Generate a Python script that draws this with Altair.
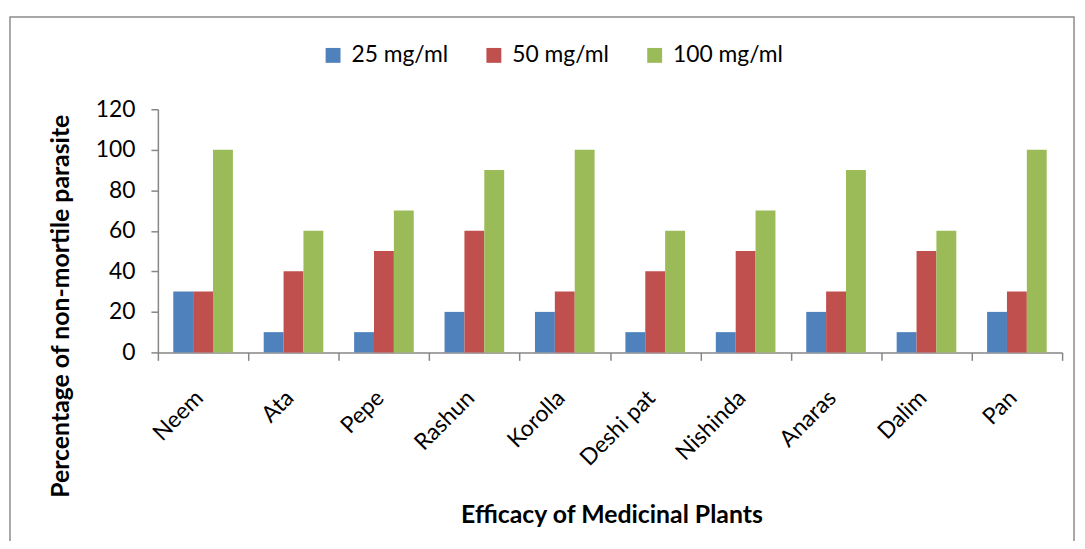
import altair as alt
import pandas as pd

plants = ["Neem", "Ata", "Pepe", "Rashun", "Korolla", "Deshi pat", "Nishinda", "Anaras", "Dalim", "Pan"]
series = ["25 mg/ml", "50 mg/ml", "100 mg/ml"]
v25 = [30, 10, 10, 20, 20, 10, 10, 20, 10, 20]
v50 = [30, 40, 50, 60, 30, 40, 50, 30, 50, 30]
v100 = [100, 60, 70, 90, 100, 60, 70, 90, 60, 100]
colors = ["#4F81BD", "#C0504D", "#9BBB59"]
y_ticks = [0, 20, 40, 60, 80, 100, 120]

rows = []
for s, vals in zip(series, [v25, v50, v100]):
    for p, v in zip(plants, vals):
        rows.append({"plant": p, "series": s, "value": v})
df = pd.DataFrame(rows)

FONT = "Lato"
AX = "#868686"

bars = alt.Chart(df).mark_bar().encode(
    x=alt.X("plant:N", sort=plants,
            scale=alt.Scale(paddingInner=0, paddingOuter=0),
            axis=alt.Axis(title="Efficacy of Medicinal Plants", labelAngle=-45,
                          labelAlign="right", labelBaseline="middle",
                          labelFontSize=23, labelFont=FONT, labelColor="black",
                          labelPadding=34, labelOffset=-4, tickBand="extent", tickSize=8,
                          tickColor=AX, domainColor=AX, domainWidth=1.5, tickWidth=1.5,
                          titleFont=FONT, titleFontSize=25, titleFontWeight="bold",
                          titleColor="black", titleX=457, titleY=171,
                          titleBaseline="alphabetic", titleAlign="center")),
    xOffset=alt.XOffset("series:N", sort=series,
                        scale=alt.Scale(paddingInner=0, paddingOuter=0.775)),
    y=alt.Y("value:Q", scale=alt.Scale(domain=[0, 120], nice=False),
            axis=alt.Axis(title="Percentage of non-mortile parasite", values=y_ticks,
                          grid=False, labelFontSize=23, labelFont=FONT, labelColor="black",
                          labelPadding=16, tickSize=7, tickColor=AX, domainColor=AX,
                          domainWidth=1.5, tickWidth=1.5,
                          titleFont=FONT, titleFontSize=25, titleFontWeight="bold",
                          titleColor="black", titleX=-98, titleY=198, titleAngle=-90,
                          titleBaseline="middle", titleAlign="center")),
    color=alt.Color("series:N", sort=series,
                    scale=alt.Scale(domain=series, range=colors),
                    legend=alt.Legend(title=None, orient="none", direction="horizontal",
                                      columns=3, legendX=165, legendY=-66,
                                      symbolType="square", symbolSize=225,
                                      symbolStrokeWidth=0, labelFont=FONT,
                                      labelFontSize=23, labelColor="black",
                                      labelOffset=7, columnPadding=34, padding=0)),
)

border = alt.Chart(pd.DataFrame({"k": [0]})).mark_rect(
    fill=None, stroke="#8c8c8c", strokeWidth=1.5
).encode(
    x=alt.value(-149), x2=alt.value(923), y=alt.value(-93), y2=alt.value(470)
)

chart = alt.layer(bars, border).properties(
    width=911, height=245,
    padding={"left": 151, "top": 100, "right": 15, "bottom": 188},
    autosize=alt.AutoSizeParams(type="none"),
).configure_view(stroke=None)

chart.save("out.html", embed_options={"renderer": "svg", "actions": False})
